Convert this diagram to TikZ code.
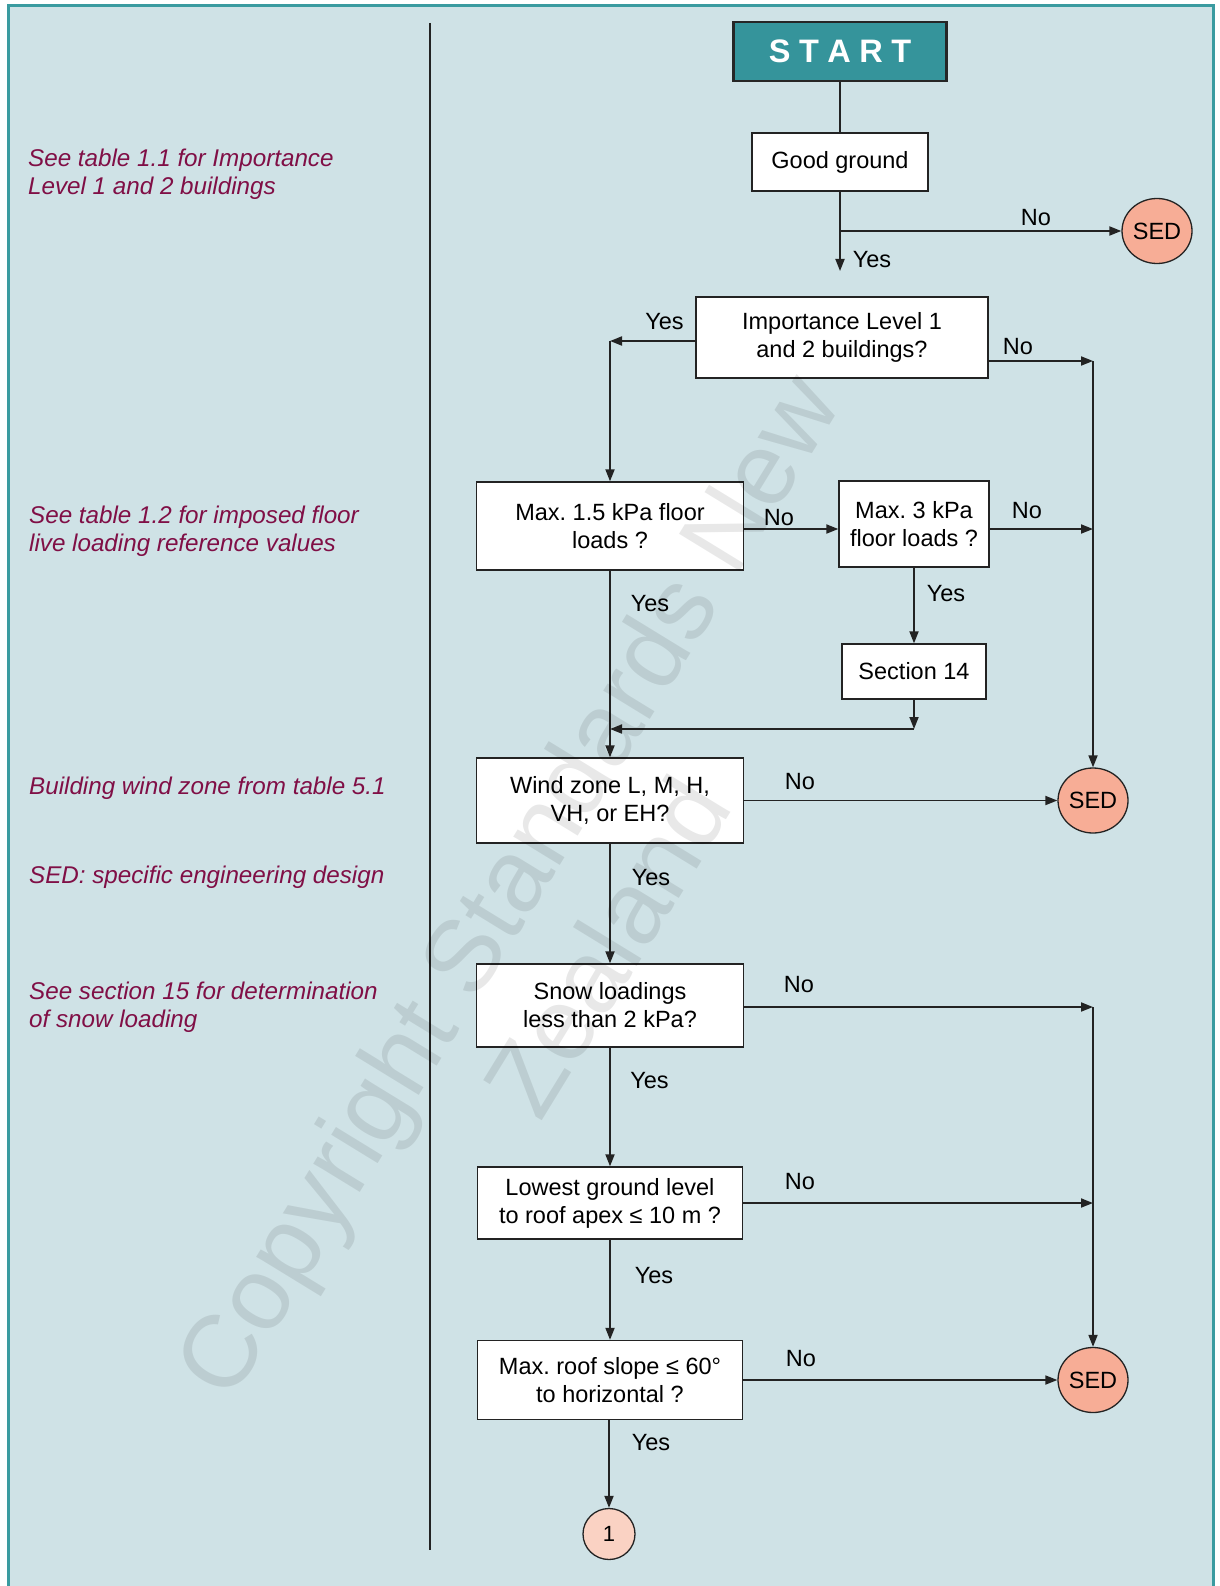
\documentclass[tikz,border=0pt]{standalone}
\usepackage{fontspec}
\setmainfont{Liberation Sans}
\usetikzlibrary{arrows.meta,shapes.geometric}
\frenchspacing

\definecolor{panel}{RGB}{207,226,230}
\definecolor{frameteal}{RGB}{58,155,160}
\definecolor{startfill}{RGB}{53,148,155}
\definecolor{sedfill}{RGB}{247,173,150}
\definecolor{onefill}{RGB}{250,210,195}
\definecolor{notecol}{RGB}{128,15,70}
\definecolor{linecol}{RGB}{35,35,35}

\begin{document}
\begin{tikzpicture}[x=1pt,y=-1pt,
  box/.style={draw=linecol, line width=1.3pt, fill=white, inner sep=0pt,
    align=center, font=\fontsize{23.5}{28}\selectfont},
  startbox/.style={draw=black!85, line width=2.5pt, fill=startfill, inner sep=0pt,
    text=white, font=\bfseries\fontsize{32.5}{36}\selectfont,
    minimum width=213pt, minimum height=59pt},
  sed/.style={ellipse, draw=linecol, line width=1.3pt, fill=sedfill, inner sep=0pt,
    minimum width=70pt, minimum height=65pt, font=\fontsize{23.5}{28}\selectfont},
  onecirc/.style={ellipse, draw=linecol, line width=1.3pt, fill=onefill, inner sep=0pt,
    minimum width=52pt, minimum height=51pt, font=\fontsize{22}{26}\selectfont},
  lbl/.style={inner sep=0pt, font=\fontsize{23.5}{28}\selectfont},
  note/.style={anchor=base west, align=left, inner sep=0pt, text=notecol,
    font=\itshape\fontsize{24.2}{28}\selectfont},
  link/.style={draw=linecol, line width=1.8pt},
  arr/.style={link, -{Triangle[length=12pt,width=9pt]}}
]
\useasboundingbox (0,0) rectangle (1219,1586);
\fill[white] (0,0) rectangle (1219,1586);
\draw[frameteal, line width=3pt, fill=panel] (8,6) rectangle (1213,1630);

% column divider
\draw[linecol, line width=2.2pt] (430,23) -- (430,1550);

% side notes (anchored at the baseline of their last line)
\node[note] (n1) at (28,195) {See table 1.1 for Importance\\Level 1 and 2 buildings};
\node[note] (n2) at (29,551.5) {See table 1.2 for imposed floor\\live loading reference values};
\node[note] (n3) at (29,794.5) {Building wind zone from table 5.1};
\node[note] (n4) at (29,883.5) {SED: specific engineering design};
\node[note] (n5) at (29,1027) {See section 15 for determination\\of snow loading};

% flow chart nodes
\node[startbox] (start) at (840,51.5) {S\hspace{8.5pt}T\hspace{8.5pt}A\hspace{8.5pt}R\hspace{8.5pt}T};
\node[box, minimum width=176pt, minimum height=58pt] (gg) at (840,162) {Good ground};
\node[sed] (sed1) at (1157,231) {SED};
\node[box, minimum width=292pt, minimum height=81pt] (imp) at (842,337.5) {Importance Level 1\\and 2 buildings?};
\node[box, minimum width=267pt, minimum height=88pt] (max15) at (610,526) {Max. 1.5 kPa floor\\loads ?};
\node[box, minimum width=150pt, minimum height=86pt] (max3) at (914,524) {Max. 3 kPa\\floor loads ?};
\node[box, minimum width=144pt, minimum height=55pt] (s14) at (914,671.5) {Section 14};
\node[box, minimum width=267pt, minimum height=85pt] (wind) at (610,800.5) {Wind zone L, M, H,\\VH, or EH?};
\node[sed] (sed2) at (1093,800.5) {SED};
\node[box, minimum width=267pt, minimum height=83pt] (snow) at (610,1005.5) {Snow loadings\\less than 2 kPa?};
\node[box, minimum width=265pt, minimum height=72pt] (low) at (610,1203) {Lowest ground level\\to roof apex ≤ 10 m ?};
\node[box, minimum width=265pt, minimum height=79pt] (roof) at (610,1380) {Max. roof slope ≤ 60°\\to horizontal ?};
\node[sed] (sed3) at (1093,1380) {SED};
\node[onecirc] (one) at (609,1534) {1};

% junction points
\coordinate (ggb) at (840,231);
\coordinate (ggy) at (840,271);
\coordinate (yl) at (610,341);
\coordinate (r1) at (1093,361);
\coordinate (r2) at (1093,529);
\coordinate (c14) at (914,729);
\coordinate (m14) at (610,729);
\coordinate (r3) at (1093,1007);
\coordinate (r4) at (1093,1203);

% connectors
\draw[link] (start) -- (gg);
\draw[arr] (gg) -- (ggy);
\draw[arr] (ggb) -- (sed1);
\draw[arr] (imp.west |- yl) -- (yl);
\draw[arr] (yl) -- (max15);
\draw[arr] (imp.east |- r1) -- (r1);
\draw[arr] (r1) -- (sed2);
\draw[arr] (max15.east |- 0,529) -- (max3.west |- 0,529);
\draw[arr] (max3.east |- r2) -- (r2);
\draw[arr] (max3) -- (s14);
\draw[arr] (s14) -- (c14);
\draw[arr] (c14) -- (m14);
\draw[arr] (max15) -- (wind);
\draw[arr] (wind) -- (sed2);
\draw[arr] (wind) -- (snow);
\draw[arr] (snow.east |- r3) -- (r3);
\draw[arr] (snow) -- (low);
\draw[arr] (low) -- (r4);
\draw[arr] (r3) -- (sed3);
\draw[arr] (low) -- (roof);
\draw[arr] (roof) -- (sed3);
\draw[arr] (roof.south -| one) -- (one);

% branch labels
\node[lbl] (l1) at (872,260) {Yes};
\node[lbl] (l2) at (1036,218) {No};
\node[lbl] (l3) at (664.5,322) {Yes};
\node[lbl] (l4) at (1018,347) {No};
\node[lbl] (l5) at (779,518) {No};
\node[lbl] (l6) at (1027,511) {No};
\node[lbl] (l7) at (946,593.5) {Yes};
\node[lbl] (l8) at (650,603.5) {Yes};
\node[lbl] (l9) at (800,781.5) {No};
\node[lbl] (l10) at (651,877.5) {Yes};
\node[lbl] (l11) at (799,985) {No};
\node[lbl] (l16) at (649.5,1080.5) {Yes};
\node[lbl] (l12) at (800,1181.5) {No};
\node[lbl] (l13) at (654,1275.5) {Yes};
\node[lbl] (l14) at (801,1358.5) {No};
\node[lbl] (l15) at (651,1443) {Yes};

% watermark
\node[rotate=58.5, align=center, inner sep=0pt, text=black, text opacity=0.09,
  font=\fontsize{103}{118}\selectfont] (wm) at (556,915)
  {Copyright Standards New\\Zealand};
\end{tikzpicture}
\end{document}
